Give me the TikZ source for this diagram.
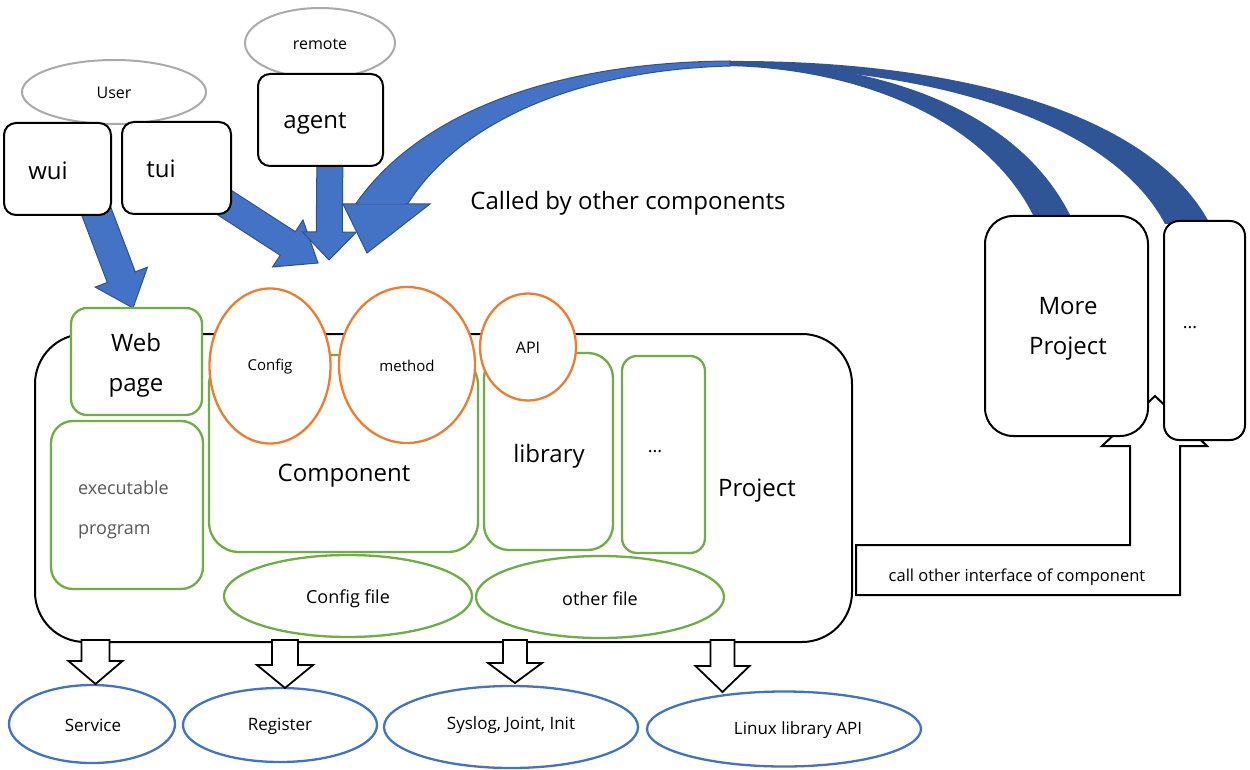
\documentclass[tikz,border=0pt]{standalone}
\usepackage{fontspec}
\setmainfont{Open Sans}
\usetikzlibrary{calc,shapes.geometric}
\definecolor{bblue}{HTML}{4472C4}
\definecolor{bdark}{HTML}{2F528F}
\definecolor{bdeep}{HTML}{305597}
\definecolor{ggreen}{HTML}{70AD47}
\definecolor{oorange}{HTML}{ED7D31}
\definecolor{lgray}{HTML}{AAAAAA}
\definecolor{tgray}{HTML}{595959}
\newcommand{\blockarr}[6]{%
  \coordinate (ba-h) at ($(#3)!#6!(#2)$);
  \draw[#1] ($(#2)!#4!90:(#3)$) -- ($(ba-h)!#4!90:(#3)$) -- ($(ba-h)!#5!90:(#3)$) -- (#3) -- ($(ba-h)!#5!-90:(#3)$) -- ($(ba-h)!#4!-90:(#3)$) -- ($(#2)!#4!-90:(#3)$) -- cycle;}
\tikzset{
  blk/.style={draw=bdark, fill=bblue, line width=1pt, line join=miter},
  hollow/.style={draw=black, fill=white, line width=1.8pt},
  ubox/.style={rectangle, draw=black, line width=2pt, rounded corners=12pt, fill=white, inner sep=0pt},
  grayell/.style={ellipse, draw=lgray, line width=2pt, fill=white, inner sep=0pt},
  gbox/.style={rectangle, draw=ggreen, line width=2.3pt, fill=white, inner sep=0pt},
  oell/.style={ellipse, draw=oorange, line width=2.3pt, fill=white, inner sep=0pt},
  gell/.style={ellipse, draw=ggreen, line width=2.3pt, fill=white, inner sep=0pt},
  bell/.style={ellipse, draw=bblue, line width=2.3pt, fill=white, inner sep=0pt},
  txt/.style={inner sep=0pt, text=black},
  big/.style={font=\fontsize{24}{40}\selectfont, align=center},
  mid/.style={font=\fontsize{18}{40}\selectfont},
  small/.style={font=\fontsize{16}{20}\selectfont},
}
\begin{document}
\begin{tikzpicture}[x=1pt, y=-1pt]
\useasboundingbox (0,0) rectangle (1250,770);

% ---------- curved arrows (called by other components)
\coordinate (cvL1) at (355,205);
\coordinate (cvL2) at (407,205);
\coordinate (cvT1) at (730,61);
\coordinate (cvT2) at (730,66);
\coordinate (cvB1) at (1210,224);
\coordinate (cvB2) at (1165,224);
\coordinate (cvA1) at (1072,219);
\coordinate (cvA2) at (1035,219);
\fill[bdeep] (cvT1) .. controls (950,60) and (1150,110) .. (cvB1) -- (cvB2) .. controls (1110,120) and (930,68) .. (cvT2) -- cycle;
\fill[bdeep] (cvT1) .. controls (880,62) and (1020,110) .. (cvA1) -- (cvA2) .. controls (990,125) and (870,70) .. (cvT2) -- cycle;
\draw[blk] (cvL1) .. controls (420,110) and (560,62) .. (cvT1) -- (cvT2) .. controls (580,70) and (460,120) .. (cvL2) -- cycle;
\coordinate (hdL) at (343,204);
\coordinate (hdR) at (430,204);
\coordinate (hdT) at (367,253);

% ---------- bent arrow (call other interface)
\coordinate (bt1) at (856,545);
\coordinate (bt2) at (856,595);
\coordinate (bt3) at (1180,595);
\coordinate (bt4) at (1180,446);
\coordinate (bt5) at (1207,446);
\coordinate (bt6) at (1155,396);
\coordinate (bt7) at (1102,446);
\coordinate (bt8) at (1130,446);
\coordinate (bt9) at (1130,545);
\draw[black, fill=white, line width=2pt] (bt1) -- (bt2) -- (bt3) -- (bt4) -- (bt5) -- (bt6) -- (bt7) -- (bt8) -- (bt9) -- cycle;
\node[txt, font=\fontsize{16.5}{20}\selectfont] (calltxt) at (1017,577) {call other interface of component};

% ---------- other projects
\node[ubox, rounded corners=28pt, minimum width=163pt, minimum height=220pt] (more) at (1066.5,326) {};
\node[txt, big] (moretxt) at (1068,329) {More\\Project};
\node[ubox, rounded corners=15pt, minimum width=81pt, minimum height=219pt] (dotsR) at (1204.5,330.5) {};
\node[txt, mid] (dotsRtxt) at (1190,328) {...};

\node[txt, font=\fontsize{24}{28}\selectfont] (called) at (628,203) {Called by other components};

% ---------- front-end arrows
\coordinate (wuiS) at (92,200);
\coordinate (wuiE) at (133,308);
\blockarr{blk}{wuiS}{wuiE}{15pt}{28pt}{33pt}
\coordinate (tuiS) at (205,190);
\coordinate (tuiE) at (318,263);
\blockarr{blk}{tuiS}{tuiE}{14pt}{28pt}{36pt}
\coordinate (agS) at (330,150);
\coordinate (agE) at (329,260);
\blockarr{blk}{agS}{agE}{13pt}{27pt}{28pt}
% curved head drawn over
\draw[blk] (hdL) -- (hdR) -- (hdT) -- cycle;
\fill[bblue] (359,204) -- (404,204) -- (408,200) -- (358,200) -- cycle;

% ---------- user side
\node[grayell, minimum width=184pt, minimum height=64pt] (user) at (114,92) {};
\node[txt, small] at (114,93) {User};
\node[grayell, minimum width=150pt, minimum height=70pt] (remote) at (320,43) {};
\node[txt, small] at (320,44) {remote};
\node[ubox, minimum width=107pt, minimum height=92pt] (wui) at (57.5,169) {};
\node[txt, big] (wuitxt) at (48,171) {wui};
\node[ubox, minimum width=109pt, minimum height=92pt] (tui) at (176.5,168) {};
\node[txt, big] (tuitxt) at (161,169) {tui};
\node[ubox, minimum width=125pt, minimum height=92pt] (agent) at (320.5,120) {};
\node[txt, big] (agenttxt) at (315,123) {agent};

% ---------- project
\node[rectangle, draw=black, line width=2pt, rounded corners=50pt, fill=white, minimum width=817pt, minimum height=308pt] (project) at (443.5,488) {};
\node[txt, big] (projtxt) at (757,491) {Project};
\node[gbox, rounded corners=16pt, minimum width=131pt, minimum height=107pt] (web) at (136.5,361.5) {};
\node[txt, big] at (136,365) {Web\\page};
\node[gbox, rounded corners=22pt, minimum width=152pt, minimum height=168pt] (exec) at (127,505) {};
\node[txt, text=tgray, font=\fontsize{18}{40}\selectfont, align=left, anchor=west] at (78,510) {executable\\program};
\node[gbox, rounded corners=30pt, minimum width=269pt, minimum height=197pt] (comp) at (343.5,453.5) {};
\node[txt, big] at (344,476) {Component};
\node[gbox, rounded corners=25pt, minimum width=129pt, minimum height=197pt] (lib) at (548.5,451.5) {};
\node[txt, big] at (549,456) {library};
\node[gbox, rounded corners=15pt, minimum width=83pt, minimum height=197pt] (dotsI) at (663.5,454.5) {};
\node[txt, mid] at (655,452) {...};
\node[gell, minimum width=248pt, minimum height=82pt] (cfgfile) at (348,596) {};
\node[txt, mid] at (348,599) {Config file};
\node[gell, minimum width=248pt, minimum height=82pt] (othfile) at (600,597) {};
\node[txt, mid] at (600,599) {other file};
\node[oell, minimum width=121pt, minimum height=155pt] (cfg) at (270,366) {};
\node[txt, font=\fontsize{15}{18}\selectfont] at (270,367) {Config};
\node[oell, minimum width=136pt, minimum height=156pt] (meth) at (407,365) {};
\node[txt, font=\fontsize{15}{18}\selectfont] at (407,366) {method};
\node[oell, minimum width=96pt, minimum height=107pt] (api) at (528,347) {};
\node[txt, font=\fontsize{16}{18}\selectfont] at (528,348) {API};

% ---------- bottom targets
\node[bell, minimum width=166pt, minimum height=78pt] (svc) at (92,724) {};
\node[txt, font=\fontsize{17}{20}\selectfont] at (93,725) {Service};
\node[bell, minimum width=194pt, minimum height=74pt] (reg) at (280,725) {};
\node[txt, font=\fontsize{17}{20}\selectfont] at (280,726) {Register};
\node[bell, minimum width=254pt, minimum height=82pt] (sys) at (511,727) {};
\node[txt, font=\fontsize{17}{20}\selectfont] at (511,725) {Syslog, Joint, Init};
\node[bell, minimum width=274pt, minimum height=75pt] (lnx) at (784,729) {};
\node[txt, font=\fontsize{17}{20}\selectfont] at (798,730) {Linux library API};

\coordinate (d1s) at (95.5,640);  \coordinate (d1e) at (95.5,684);
\coordinate (d2s) at (285,640);   \coordinate (d2e) at (285,688);
\coordinate (d3s) at (515,640);   \coordinate (d3e) at (515,683);
\coordinate (d4s) at (722.5,640); \coordinate (d4e) at (722.5,692);
\blockarr{hollow}{d1s}{d1e}{14pt}{27pt}{23pt}
\blockarr{hollow}{d2s}{d2e}{13pt}{28pt}{23pt}
\blockarr{hollow}{d3s}{d3e}{12pt}{27pt}{20pt}
\blockarr{hollow}{d4s}{d4e}{12pt}{27pt}{26pt}
\end{tikzpicture}
\end{document}
